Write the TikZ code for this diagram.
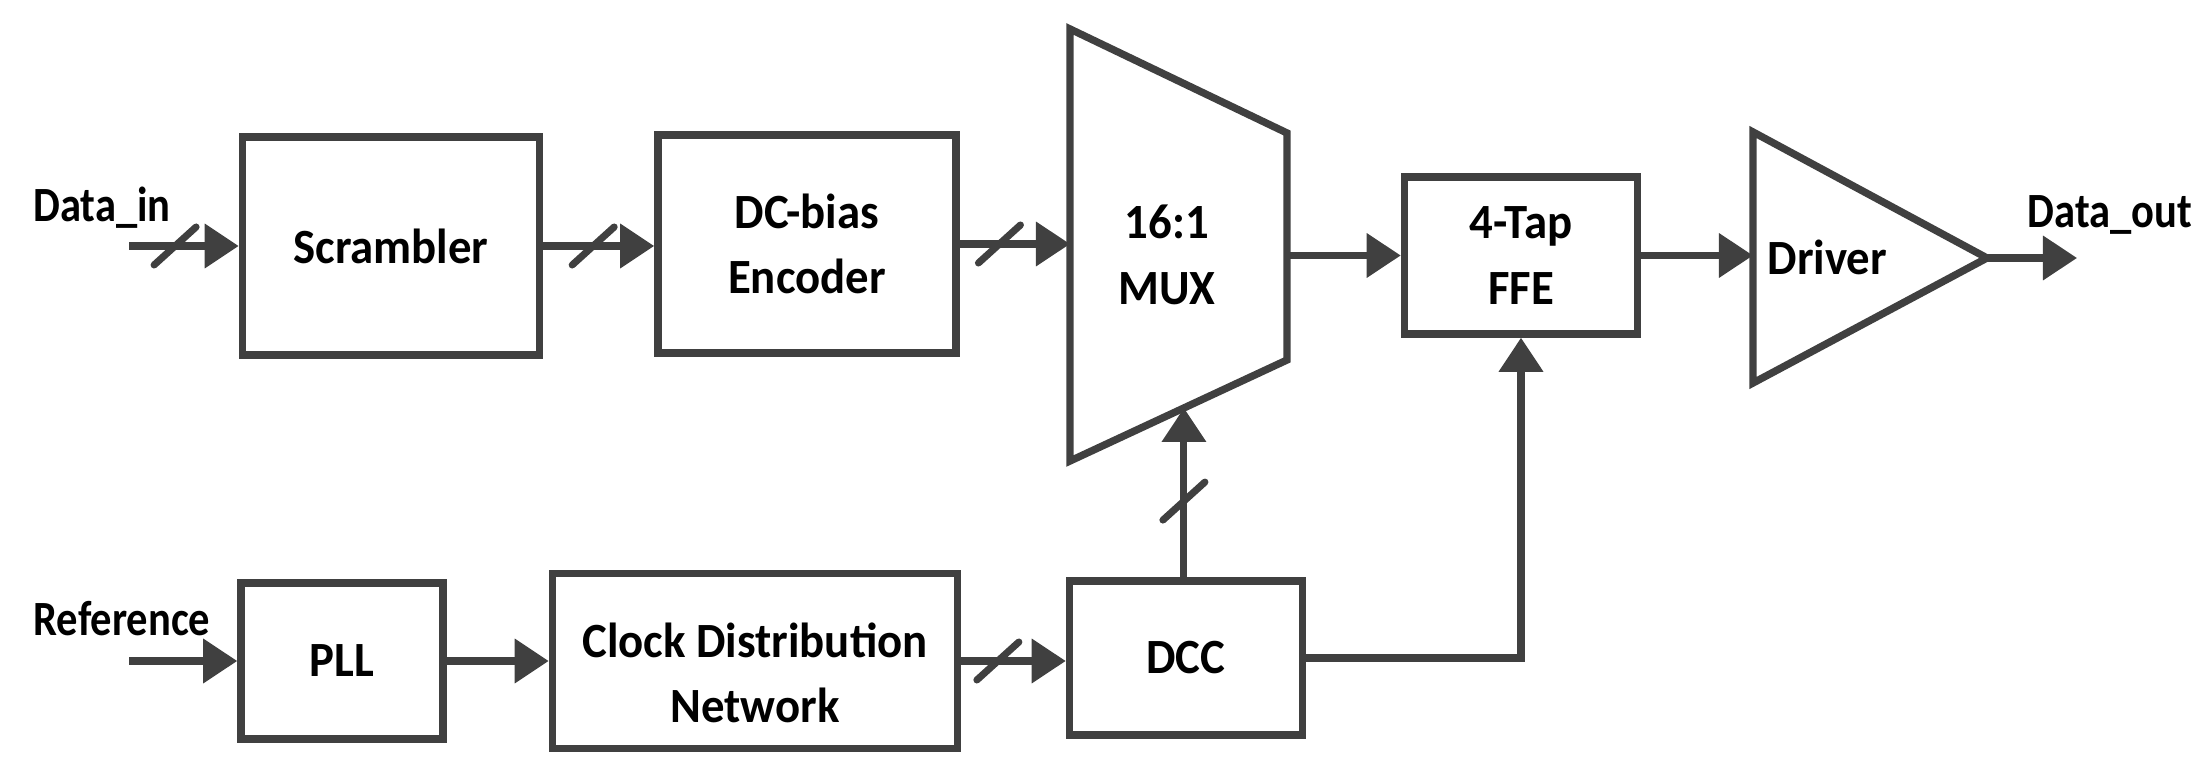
\documentclass[tikz,border=0pt]{standalone}
\usepackage{fontspec}
\setmainfont{Carlito}[FakeStretch=0.95]
\usetikzlibrary{arrows.meta,positioning,calc}
\definecolor{wire}{RGB}{64,64,64}
% short slash across a bus line
\newcommand{\busmark}[1]{\draw[wire, line width=2pt, line cap=round] ($(#1)+(-21,19)$) -- ($(#1)+(21,-19)$);}
% port names are set a bit narrower
\newcommand{\portname}[1]{\scalebox{0.91}[1]{#1}}

\begin{document}
\begin{tikzpicture}[x=0.01cm, y=-0.01cm,
    every node/.style={font=\fontsize{14}{18.6}\selectfont\bfseries},
    blk/.style={draw=wire, line width=2.1pt, inner sep=0pt, align=center},
    sig/.style={draw=wire, line width=2pt, -{Triangle[length=3.4mm,width=4.3mm]}}]
    \useasboundingbox (0,0) rectangle (2199,764);

    % data path
    \node[blk, minimum width=2.97cm, minimum height=2.18cm] (scr) at (391,246) {Scrambler};
    \node[blk, minimum width=2.98cm, minimum height=2.18cm] (enc) at (807,244) {DC-bias\\Encoder};
    \node[blk, minimum width=2.33cm, minimum height=1.57cm] (ffe) at (1521,255.5) {4-Tap\\FFE};

    % 16:1 MUX
    \coordinate (mux-tl) at (1070,29);
    \coordinate (mux-tr) at (1287,133);
    \coordinate (mux-br) at (1287,360);
    \coordinate (mux-bl) at (1070,461);
    \draw[wire, line width=2.1pt] (mux-tl) -- (mux-tr) -- (mux-br) -- (mux-bl) -- cycle;
    \node[align=center] (mux) at (1167,255) {16:1\\MUX};
    \coordinate (mux-in) at (1070,246);
    \coordinate (mux-out) at (1287,255.5);
    \coordinate (mux-sel) at ($(mux-bl)!0.525!(mux-br)$);

    % Driver
    \coordinate (drv-t) at (1753,132);
    \coordinate (drv-b) at (1753,383);
    \coordinate (drv-tip) at (1987,258);
    \draw[wire, line width=2.1pt] (drv-t) -- (drv-tip) -- (drv-b) -- cycle;
    \node[anchor=west, inner sep=0pt] (drv) at (1767,257) {Driver};

    % clock path
    \node[blk, minimum width=2.02cm, minimum height=1.56cm] (pll) at (342,661) {PLL};
    \node[blk, minimum width=4.05cm, minimum height=1.75cm] (cdn) at (755,661) {};
    \node[align=center] (cdn-txt) at (755,673) {Clock Distribution\\Network};
    \node[blk, minimum width=2.33cm, minimum height=1.54cm] (dcc) at (1186,658) {DCC};

    % I/O labels
    \node[anchor=base] (din-lbl) at (102,222) {\portname{Data\_in}};
    \node[anchor=base] (dout-lbl) at (2110,228) {\portname{Data\_out}};
    \node[anchor=base] (ref-lbl) at (122,636) {\portname{Reference}};
    \coordinate (din) at (129,246);
    \coordinate (ref) at (129,661);
    \coordinate (dout) at (2077,258);

    % connections
    \draw[sig] (din) -- coordinate[pos=.42] (bus1) (scr.west);
    \busmark{bus1}
    \draw[sig] (scr.east) -- coordinate[pos=.45] (bus2) (scr.east -| enc.west);
    \busmark{bus2}
    \draw[sig] (enc.east) -- coordinate[pos=.36] (bus3) (enc.east -| mux-in);
    \busmark{bus3}
    \draw[sig] (mux-out) -- (ffe.west);
    \draw[sig] (ffe.east) -- (ffe.east -| drv-t);
    \draw[sig] (drv-tip) -- (dout);

    \draw[sig] (ref) -- (pll.west);
    \draw[sig] (pll.east) -- (cdn.west);
    \draw[sig] (cdn.east) -- coordinate[pos=.35] (bus4) (cdn.east -| dcc.west);
    \busmark{bus4}
    \draw[sig] (dcc.north -| mux-sel) -- coordinate[pos=.45] (bus5) (mux-sel);
    \busmark{bus5}
    \draw[sig] (dcc.east) -| (ffe.south);
\end{tikzpicture}
\end{document}
